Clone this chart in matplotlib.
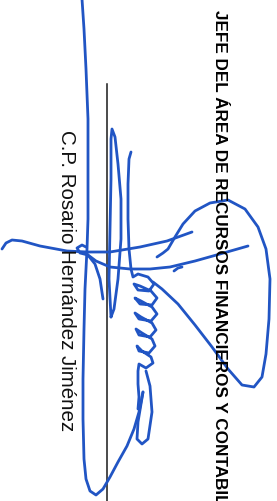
import matplotlib.pyplot as plt

# signed page, scanned sideways: texts run top to bottom
title = "JEFE DEL ÁREA DE RECURSOS FINANCIEROS Y CONTABILIDAD"
name = "C.P. Rosario Hernández Jiménez"

# signature strokes, in pixel coords of the scan (x, y)
stroke_a = [(82, 0), (84, 30), (86, 70), (88, 120), (88, 170), (88, 220), (87, 250),
            (85, 290), (84, 330), (83, 380), (83, 420), (84, 460), (86, 480), (90, 492),
            (96, 496), (103, 490), (110, 478), (118, 463), (127, 447), (134, 430),
            (139, 413), (143, 393)]
stroke_b = [(111, 318), (109, 280), (110, 230), (111, 180), (111, 140), (112, 130),
            (115, 138), (118, 165), (121, 200), (121, 240), (118, 280), (114, 310),
            (111, 318)]
stroke_c = [(131, 153), (129, 160), (128, 185), (128, 220), (129, 250), (131, 270),
            (133, 278), (138, 275), (148, 278), (154, 285), (149, 292), (138, 291),
            (134, 285), (140, 287), (151, 292), (157, 299), (152, 306), (140, 305),
            (135, 299), (141, 302), (152, 308), (157, 315), (151, 322), (139, 320),
            (135, 314), (141, 318), (152, 324), (156, 331), (150, 338), (139, 336),
            (136, 330), (142, 334), (152, 340), (155, 347), (149, 354), (139, 352),
            (137, 347), (142, 352), (151, 358), (153, 364), (146, 369), (139, 365),
            (138, 372), (138, 385), (139, 398), (138, 410)]
stroke_tail = [(143, 393), (138, 423), (137, 440), (142, 445), (148, 440), (152, 413),
               (150, 387), (146, 372)]
stroke_d = [(157, 258), (163, 254), (168, 250), (175, 238), (183, 225), (195, 212),
            (210, 204), (228, 201), (245, 210), (258, 228), (266, 250), (270, 280),
            (269, 320), (266, 355), (262, 378), (254, 388), (242, 386), (228, 370),
            (212, 348), (195, 326), (178, 305), (162, 290), (153, 283)]
stroke_e1 = [(2, 250), (6, 244), (12, 241), (22, 242), (40, 247), (67, 252), (87, 253),
             (110, 253), (140, 248), (167, 242), (192, 233)]
stroke_e2 = [(86, 248), (82, 246), (77, 249), (80, 254), (88, 256), (96, 262),
             (110, 268), (130, 270), (150, 270), (170, 268), (195, 262), (220, 255),
             (248, 247)]
stroke_f = [(87, 255), (95, 265), (100, 280), (103, 300)]
stroke_hook = [(174, 272), (178, 269), (182, 268)]

strokes = [stroke_a, stroke_b, stroke_c, stroke_tail, stroke_d, stroke_e1, stroke_e2,
           stroke_f, stroke_hook]

fig = plt.figure(figsize=(2.77, 5.02), dpi=100)
ax = fig.add_axes([0, 0, 1, 1])
ax.set_xlim(0, 277)
ax.set_ylim(502, 0)
ax.axis('off')

# rule over the name
ax.plot([107, 107], [85, 502], color='#1a1a1a', lw=1.1)

ax.text(215, 10, title, rotation=-90, rotation_mode='anchor', ha='left',
        va='baseline', fontsize=12.3, fontweight='bold', family='Liberation Sans',
        color='black')
ax.text(61, 130, name, rotation=-90, rotation_mode='anchor', ha='left',
        va='baseline', fontsize=14.8, family='Liberation Sans', color='#111111')

for s in strokes:
    xs = [p[0] for p in s]
    ys = [p[1] for p in s]
    ax.plot(xs, ys, color='#2155c4', lw=2.0, solid_joinstyle='round',
            solid_capstyle='round')

fig.savefig('out.png', dpi=100)
